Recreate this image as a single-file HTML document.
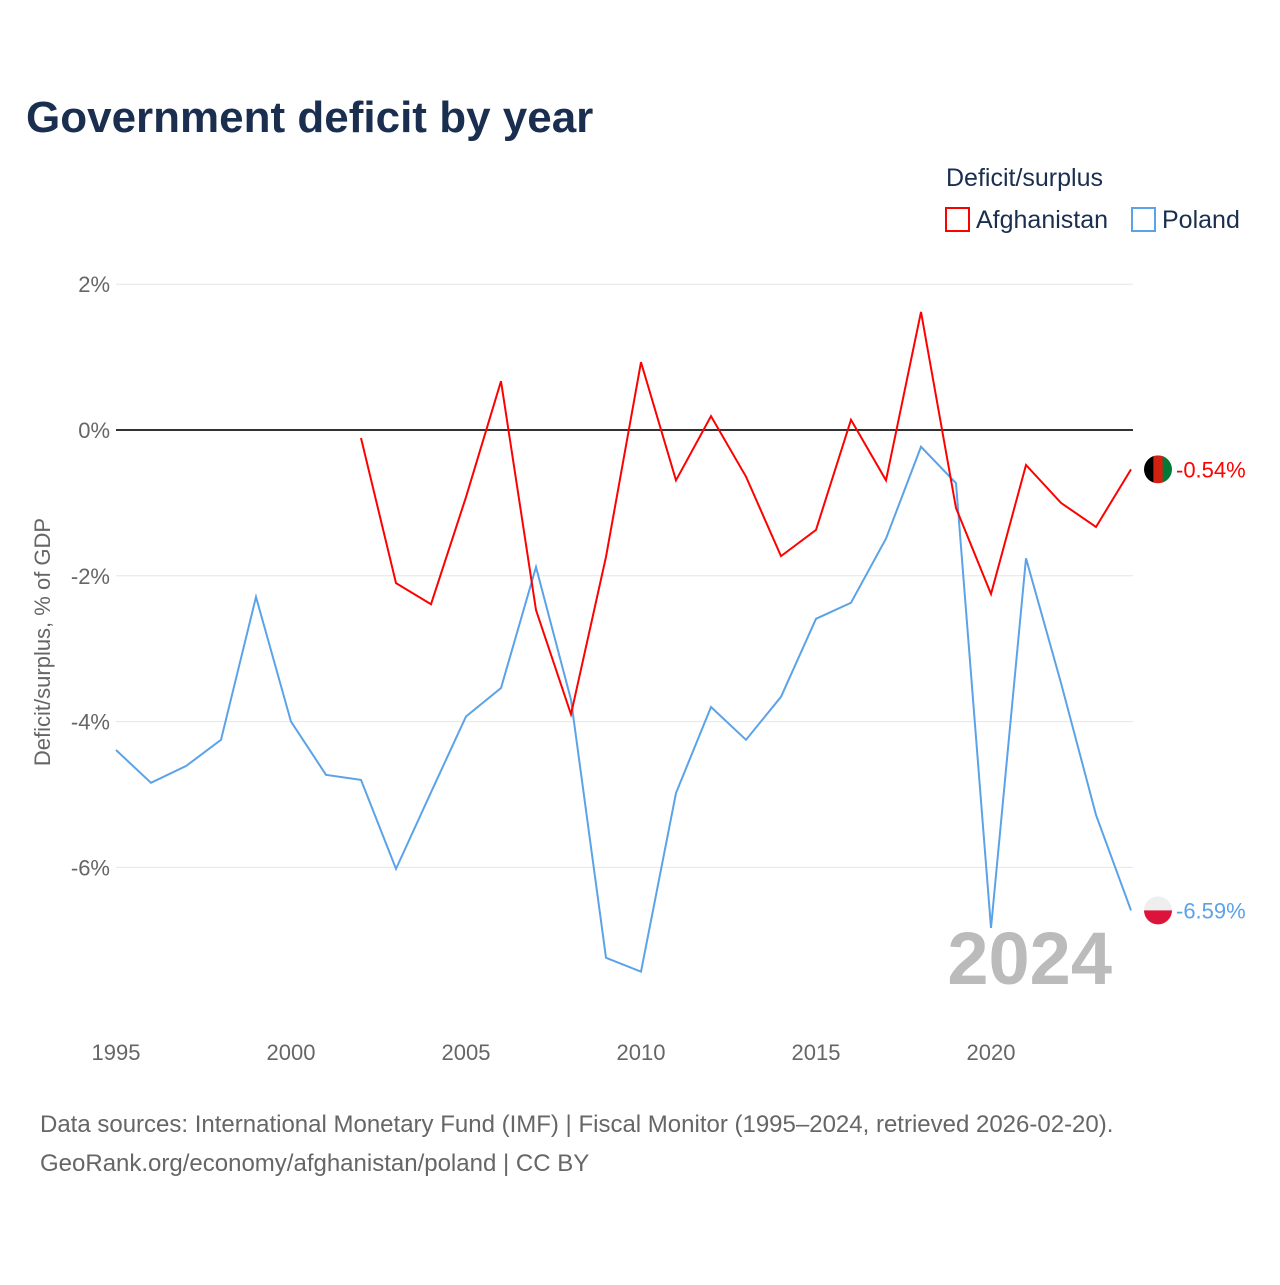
<!DOCTYPE html>
<html><head><meta charset="utf-8">
<style>
html,body{margin:0;padding:0;background:#fff;}
body{width:1280px;height:1280px;position:relative;font-family:"Liberation Sans",sans-serif;overflow:hidden;}
svg text{font-family:"Liberation Sans",sans-serif;}
</style></head>
<body>
<svg id="chart" width="1280" height="1280" xmlns="http://www.w3.org/2000/svg">
<text x="26" y="132" font-size="44" font-weight="bold" fill="#1a2e4f">Government deficit by year</text>
<text x="946" y="186" font-size="25" fill="#1a2e4f">Deficit/surplus</text>
<g>
<rect x="946" y="208" width="23" height="23" fill="none" stroke="#ff0000" stroke-width="2"/>
<text x="976" y="228" font-size="25" fill="#1a2e4f">Afghanistan</text></g>
<g>
<rect x="1132" y="208" width="23" height="23" fill="none" stroke="#5ba3e8" stroke-width="2"/>
<text x="1162" y="228" font-size="25" fill="#1a2e4f">Poland</text></g>
<text transform="translate(50,642) rotate(-90)" text-anchor="middle" font-size="22" fill="#666">Deficit/surplus, % of GDP</text>
<g id="grid"></g><g id="xt"></g>
<text x="1112" y="984" text-anchor="end" font-size="74" font-weight="bold" fill="#bbb">2024</text>
<g id="series"></g>
<text x="40" y="1132" font-size="24" fill="#666">Data sources: International Monetary Fund (IMF) | Fiscal Monitor (1995–2024, retrieved 2026-02-20).</text>
<text x="40" y="1171" font-size="24" fill="#666">GeoRank.org/economy/afghanistan/poland | CC BY</text>
</svg>
<script>
const years=[];for(let y=1995;y<=2024;y++)years.push(y);
const poland=[-4.39,-4.84,-4.61,-4.25,-2.29,-4.0,-4.73,-4.80,-6.02,-4.97,-3.93,-3.54,-1.88,-3.70,-7.24,-7.43,-4.98,-3.80,-4.25,-3.66,-2.59,-2.37,-1.49,-0.23,-0.73,-6.83,-1.76,-3.47,-5.28,-6.59];
const afgYears=[2002,2003,2004,2005,2006,2007,2008,2009,2010,2011,2012,2013,2014,2015,2016,2017,2018,2019,2020,2021,2022,2023,2024];
const afghanistan=[-0.11,-2.10,-2.39,-0.92,0.67,-2.47,-3.90,-1.74,0.93,-0.69,0.19,-0.64,-1.73,-1.37,0.14,-0.69,1.62,-1.07,-2.25,-0.48,-1.00,-1.33,-0.54];
const yTicks=[2,0,-2,-4,-6];
const xTicks=[1995,2000,2005,2010,2015,2020];
const X=y=>116+(y-1995)*35;
const Y=v=>430-v*72.9;
const NS="http://www.w3.org/2000/svg";
function mk(t,a,p){const e=document.createElementNS(NS,t);for(const k in a)e.setAttribute(k,a[k]);p.appendChild(e);return e;}
const g=document.getElementById('grid');
yTicks.forEach(v=>{
 const l=mk('line',{x1:116,x2:1133,y1:Y(v),y2:Y(v),stroke:v===0?'#333':'#e6e6e6','stroke-width':v===0?2:1},g);
 
 
 const t=mk('text',{x:110,y:Y(v)+8,'text-anchor':'end','font-size':22,fill:'#666'},g);
 
 
 t.textContent=v+'%';
});
const xt=document.getElementById('xt');
xTicks.forEach(v=>{
 const t=mk('text',{x:X(v),y:1060,'text-anchor':'middle','font-size':22,fill:'#666'},xt);
 
 
 t.textContent=v;
});
const s=document.getElementById('series');
function flag(name,cy,stripes,vertical){
 const cp=mk('clipPath',{id:'clip-'+name},s);
 mk('circle',{cx:1158,cy:cy,r:14},cp);
 const fg=mk('g',{'clip-path':'url(#clip-'+name+')'},s);
 
 
 const n=stripes.length;
 stripes.forEach((c,i)=>{
  if(vertical) mk('rect',{x:1144+i*28/n,y:cy-14,width:28/n+0.5,height:28,fill:c},fg);
  else mk('rect',{x:1144,y:cy-14+i*28/n,width:28,height:28/n+0.5,fill:c},fg);
 });
}
function line(xs,vs,c,name,stripes,vertical){
 const p=mk('polyline',{points:xs.map((x,i)=>X(x)+','+Y(vs[i])).join(' '),fill:'none',stroke:c,'stroke-width':2},s);
 
 
 const lv=vs[vs.length-1],ly=Y(lv);
 flag(name,ly,stripes,vertical);
 const t=mk('text',{x:1176,y:ly+8,'font-size':22,fill:c},s);
 
 
 t.textContent=lv.toFixed(2)+'%';
}
line(years,poland,'#5ba3e8','poland',['#eeeeee','#dc143c'],false);
line(afgYears,afghanistan,'#ff0000','afghanistan',['#000000','#d32011','#007a36'],true);
</script>
</body></html>
